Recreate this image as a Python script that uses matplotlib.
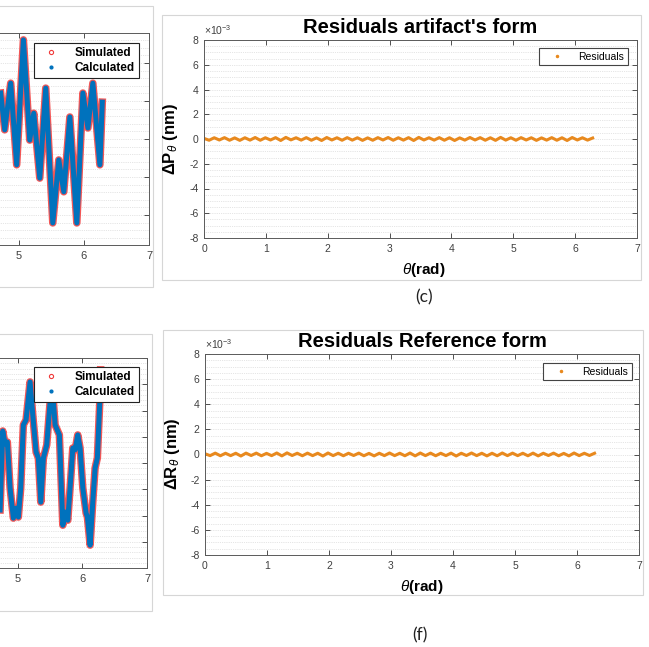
import numpy as np
import matplotlib
matplotlib.use('Agg')
import matplotlib.pyplot as plt
from matplotlib.ticker import MultipleLocator
from matplotlib.lines import Line2D
from matplotlib.patches import Rectangle

W, H = 649, 647

plt.rcParams['font.family'] = ['Liberation Sans', 'DejaVu Sans']
plt.rcParams['mathtext.fontset'] = 'custom'
plt.rcParams['mathtext.rm'] = 'Liberation Sans'
plt.rcParams['mathtext.it'] = 'Liberation Sans:italic'
plt.rcParams['mathtext.bf'] = 'Liberation Sans:bold'
plt.rcParams['axes.unicode_minus'] = False

# ---- data ----
# top-left panel: only the right end (theta > 4.7 rad) is visible
tl_theta = [4.723, 4.785, 4.877, 4.969, 5.072, 5.169, 5.231, 5.323, 5.415, 5.523,
            5.615, 5.692, 5.785, 5.892, 5.985, 6.062, 6.138, 6.246, 6.283]
tl_val = [1.21, 0.24, 1.47, -0.68, 2.61, -0.03, 0.68, -1.03, 1.34, -2.21,
          -0.55, -1.39, 0.58, -2.21, 1.21, 0.29, 1.47, -0.68, 0.97]

# bottom-left panel
bl_theta = [4.730, 4.771, 4.807, 4.842, 4.884, 4.935, 4.977, 5.012, 5.049, 5.089,
            5.131, 5.193, 5.235, 5.286, 5.321, 5.359, 5.399, 5.451, 5.529, 5.580,
            5.646, 5.699, 5.739, 5.776, 5.822, 5.853, 5.889, 5.930, 5.966, 6.008,
            6.059, 6.079, 6.121, 6.162, 6.198, 6.233, 6.275, 6.283]
bl_val = [-1.79, 1.22, 0.73, 0.80, -0.95, -2.10, -1.72, -2.06, -0.95, 1.45,
          1.64, 3.09, 1.83, 0.42, 0.19, -1.49, 0.19, 0.69, 3.17, 1.45,
          1.07, -2.37, -1.87, -2.18, -0.57, 0.57, 0.50, 1.07, 0.57, -0.95,
          -1.91, -2.06, -3.13, -1.49, -0.19, 0.19, 2.60, 3.55]

# residuals in units of 1e-3 nm, peaks and troughs along 0..2pi
res_c = [0.05, -0.10, 0.10, -0.08, 0.11, -0.10, 0.09, -0.11, 0.10, -0.09,
         0.12, -0.10, 0.10, -0.08, 0.11, -0.12, 0.13, -0.07, 0.10, -0.09,
         0.11, -0.10, 0.09, -0.12, 0.12, -0.08, 0.10, -0.10, 0.11, -0.09,
         0.10, -0.11, 0.09, -0.10, 0.11, -0.08, 0.12, -0.10, 0.10, -0.09,
         0.11, -0.12, 0.13, -0.08, 0.10, -0.09, 0.11, -0.10, 0.10, -0.12,
         0.09, -0.09, 0.12, -0.08, 0.11, -0.10, 0.10, -0.11, 0.13, -0.09,
         0.10, -0.10, 0.11, -0.08, 0.10, -0.11, 0.09, -0.09, 0.11, -0.10,
         0.10, -0.12, 0.12, -0.08, 0.10, -0.09, 0.08]
res_f = [0.06, -0.09, 0.11, -0.10, 0.10, -0.09, 0.10, -0.12, 0.11, -0.08,
         0.11, -0.10, 0.09, -0.09, 0.12, -0.11, 0.13, -0.08, 0.10, -0.10,
         0.11, -0.09, 0.10, -0.12, 0.12, -0.09, 0.10, -0.10, 0.10, -0.08,
         0.11, -0.10, 0.09, -0.11, 0.10, -0.09, 0.12, -0.09, 0.10, -0.10,
         0.12, -0.11, 0.12, -0.09, 0.11, -0.10, 0.10, -0.09, 0.11, -0.12,
         0.10, -0.08, 0.12, -0.09, 0.10, -0.11, 0.10, -0.10, 0.12, -0.09,
         0.11, -0.09, 0.10, -0.10, 0.11, -0.11, 0.10, -0.08, 0.11, -0.10,
         0.09, -0.11, 0.12, -0.09, 0.10, -0.08, 0.10]

x_ticks = [0, 1, 2, 3, 4, 5, 6, 7]
left_xlabels = ['', '', '', '', '', '5', '6', '7']

RED = '#f03a3a'
BLUE = '#0072BD'
ORANGE = '#E8891E'

fig = plt.figure(figsize=(W / 100, H / 100), dpi=100)


def box(l, t, r, b):
    return [l / W, 1 - b / H, (r - l) / W, (b - t) / H]


def frame(l, t, r, b):
    fig.add_artist(Rectangle((l / W, 1 - b / H), (r - l) / W, (b - t) / H,
                             transform=fig.transFigure, fill=False,
                             ec='#d6d6d6', lw=0.8))


def style(ax, fs):
    ax.tick_params(which='major', direction='in', top=True, right=True,
                   length=3.5, width=0.6, color='#333333', labelsize=fs,
                   labelcolor='#404040', pad=4)
    ax.tick_params(which='minor', length=0)
    for s in ax.spines.values():
        s.set_color('#5a5a5a')
        s.set_linewidth(0.7)
    ax.grid(axis='y', which='both', linestyle=':', color='#cdcdcd', linewidth=0.5)
    ax.set_axisbelow(True)


frame(-5, 6, 153, 287)
frame(-5, 334, 152, 611)
frame(162, 15, 641, 280)
frame(163, 330, 643, 595)

sim_h = Line2D([], [], marker='o', ms=3, mfc='none', mec=RED, mew=0.8, ls='none')
calc_h = Line2D([], [], marker='.', ms=4, color=BLUE, ls='none')

# ---- left panels (cut off at the figure edge) ----
for rect, th, val, ylim, anchor in [((-307, 33, 149, 245), tl_theta, tl_val, 2.79, (139, 43)),
                                    ((-306, 358, 147, 568), bl_theta, bl_val, 4.0, (139, 367))]:
    ax = fig.add_axes(box(*rect))
    ax.plot(th, val, color=RED, lw=5.4, alpha=0.85, solid_joinstyle='round')
    ax.plot(th, val, color=BLUE, lw=3.6, solid_joinstyle='round')
    ax.set_xlim(0, 7)
    ax.set_ylim(-ylim, ylim)
    ax.set_xticks(x_ticks, left_xlabels)
    ax.yaxis.set_major_locator(MultipleLocator(1))
    ax.yaxis.set_minor_locator(MultipleLocator(0.2))
    style(ax, 8)
    ax.tick_params(labelleft=False)
    leg = ax.legend([sim_h, calc_h], ['Simulated', 'Calculated'], loc='upper right',
                    bbox_to_anchor=(anchor[0] / W, 1 - anchor[1] / H),
                    bbox_transform=fig.transFigure, borderaxespad=0,
                    fancybox=False, edgecolor='#222222', framealpha=1,
                    prop={'weight': 'bold', 'size': 8.5}, handlelength=2.2,
                    handletextpad=0.9, borderpad=0.35, labelspacing=0.25)
    leg.get_frame().set_linewidth(0.8)

# ---- right panels: residuals ----
panels = [((204, 40, 637, 238), res_c, "Residuals artifact's form", 'ΔP$_\\theta$ (nm)',
           (170, 139), (424, 270), '(c)', (424, 297), (628, 48)),
          ((205, 354, 639, 555), res_f, 'Residuals Reference form', 'ΔR$_\\theta$ (nm)',
           (172, 454), (422, 587), '(f)', (420, 635), (632, 363))]

for rect, res, title, ylab, ylpos, xlpos, tag, tagpos, legpos in panels:
    ax = fig.add_axes(box(*rect))
    theta = np.linspace(0, 2 * np.pi, len(res))
    ax.plot(theta, res, color=ORANGE, lw=2.2)
    ax.set_xlim(0, 7)
    ax.set_ylim(-8, 8)
    ax.yaxis.set_major_locator(MultipleLocator(2))
    ax.yaxis.set_minor_locator(MultipleLocator(0.5))
    ax.set_xticks(x_ticks)
    style(ax, 7.5)
    ax.set_title(title, fontsize=14.5, fontweight='bold', pad=5)
    ax.text(0.0, 1.015, '×10$^{-3}$', transform=ax.transAxes, fontsize=7.5,
            color='#404040', ha='left', va='bottom')
    fig.text(ylpos[0] / W, 1 - ylpos[1] / H, ylab, rotation=90, ha='center',
             va='center', fontsize=12, fontweight='bold')
    fig.text(xlpos[0] / W, 1 - xlpos[1] / H, '$\\theta$(rad)', ha='center',
             va='center', fontsize=11, fontweight='bold')
    fig.text(tagpos[0] / W, 1 - tagpos[1] / H, tag, ha='center', va='center',
             fontsize=12.5, family='Lato', color='#222222')
    res_h = Line2D([], [], marker='.', ms=3, color=ORANGE, ls='none')
    leg = ax.legend([res_h], ['Residuals'], loc='upper right',
                    bbox_to_anchor=(legpos[0] / W, 1 - legpos[1] / H),
                    bbox_transform=fig.transFigure, borderaxespad=0,
                    fancybox=False, edgecolor='#444444', framealpha=1,
                    prop={'size': 7.5}, handlelength=2.6, handletextpad=0.8,
                    borderpad=0.35)
    leg.get_frame().set_linewidth(0.8)

fig.savefig('out.png', dpi=100)
